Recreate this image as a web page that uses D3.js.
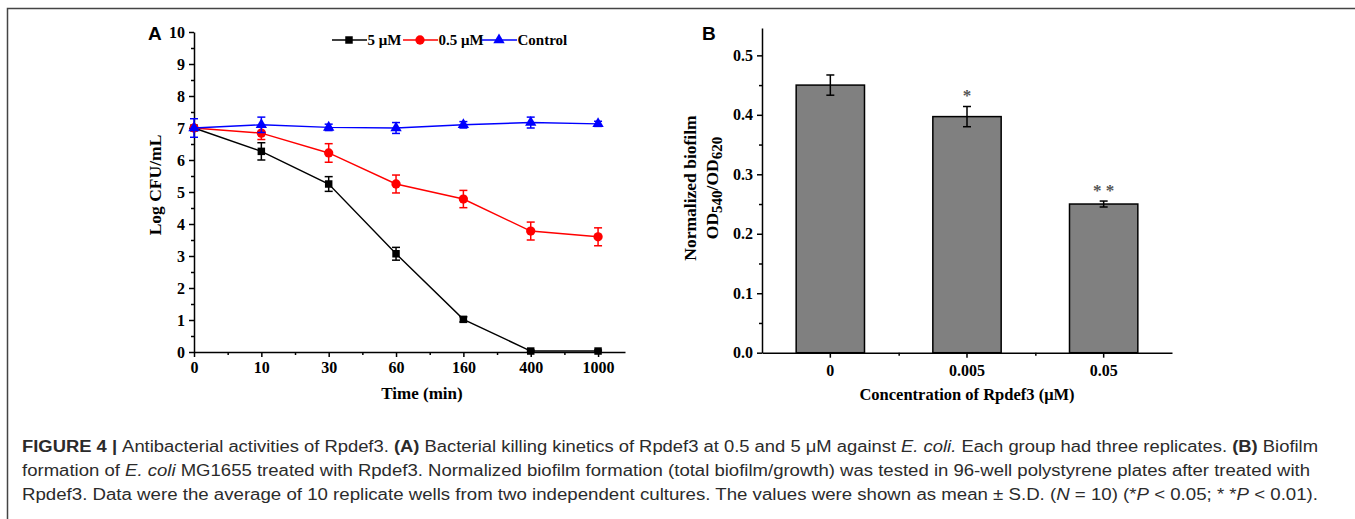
<!DOCTYPE html>
<html>
<head>
<meta charset="utf-8">
<script src="https://cdn.jsdelivr.net/npm/d3@7"></script>
<style>
  body { margin: 0; background: #fff; }
  svg text { font-family: "Liberation Serif", "Times New Roman", serif; font-weight: bold; }
  .axis path, .axis line { stroke: #000; stroke-width: 1.5; }
  .caption text, .caption tspan { font-family: "Liberation Sans Narrow", "Liberation Sans", Arial, sans-serif; font-weight: normal; }
</style>
</head>
<body>
<div class="canvas"></div>
<script>
// panel A data: killing kinetics
const timeLabels = ["0", "10", "30", "60", "160", "400", "1000"];
const kill5 = [7.0, 6.27, 5.25, 3.07, 1.02, 0.03, 0.03];
const kill5Err = [0.05, 0.27, 0.23, 0.2, 0.08, 0.03, 0.03];
const kill05 = [7.0, 6.84, 6.22, 5.25, 4.78, 3.78, 3.6];
const kill05Err = [0.05, 0.2, 0.29, 0.28, 0.27, 0.28, 0.28];
const control = [7.0, 7.1, 7.02, 7.0, 7.1, 7.17, 7.13];
const controlErr = [0.29, 0.24, 0.1, 0.17, 0.1, 0.17, 0.08];
const seriesNames = ["5 \u03bcM", "0.5 \u03bcM", "Control"];
const seriesColors = ["#000000", "#ff0000", "#0000ff"];

// panel B data: biofilm
const concLabels = ["0", "0.005", "0.05"];
const biofilm = [0.45, 0.397, 0.25];
const biofilmErr = [0.017, 0.017, 0.005];
const sigMarks = ["", "*", "**"];

const W = 1355, H = 519;
const svg = d3.select(".canvas").append("svg").attr("width", W).attr("height", H);

// frame
svg.append("path")
  .attr("d", `M7.5,${H} L7.5,8.5 L${W},8.5`)
  .attr("fill", "none").attr("stroke", "#444").attr("stroke-width", 1.5);

// ---------- panel A ----------
const a = { left: 194, top: 32, bottom: 352, right: 625 };
const xA = d3.scaleLinear().domain([0, 6.4]).range([a.left, a.right]);
const yA = d3.scaleLinear().domain([0, 10]).range([a.bottom, a.top]);

const gA = svg.append("g");

// minor ticks
gA.append("g").attr("class", "axis")
  .attr("transform", `translate(${a.left},0)`)
  .call(d3.axisLeft(yA).tickValues(d3.range(0.5, 10, 1)).tickSize(3).tickFormat(""))
  .call(g => g.select(".domain").remove());
gA.append("g").attr("class", "axis")
  .attr("transform", `translate(0,${a.bottom})`)
  .call(d3.axisBottom(xA).tickValues(d3.range(0.5, 6.4, 1)).tickSize(3).tickFormat(""))
  .call(g => g.select(".domain").remove());

const yAxisA = gA.append("g").attr("class", "axis")
  .attr("transform", `translate(${a.left},0)`)
  .call(d3.axisLeft(yA).ticks(10).tickSize(5).tickSizeOuter(0).tickPadding(4));
const xAxisA = gA.append("g").attr("class", "axis")
  .attr("transform", `translate(0,${a.bottom})`)
  .call(d3.axisBottom(xA).tickValues(d3.range(0, 7)).tickSize(5).tickSizeOuter(0)
    .tickPadding(5).tickFormat(i => timeLabels[i]));
yAxisA.selectAll("text").attr("font-size", 16).attr("fill", "#000");
xAxisA.selectAll("text").attr("font-size", 16).attr("fill", "#000");

// series
const allSeries = [
  { vals: kill5, err: kill5Err, shape: d3.symbolSquare, size: 56 },
  { vals: kill05, err: kill05Err, shape: d3.symbolCircle, size: 68 },
  { vals: control, err: controlErr, shape: d3.symbolTriangle, size: 56 }
];

const line = d3.line().x((d, i) => xA(i)).y(d => yA(d));

allSeries.forEach((s, k) => {
  const col = seriesColors[k];
  const g = gA.append("g");
  g.append("path").datum(s.vals)
    .attr("fill", "none").attr("stroke", col).attr("stroke-width", 1.4)
    .attr("d", line);
  const eb = g.selectAll(".eb").data(s.vals).enter().append("g");
  eb.append("line")
    .attr("x1", (d, i) => xA(i)).attr("x2", (d, i) => xA(i))
    .attr("y1", (d, i) => yA(d + s.err[i])).attr("y2", (d, i) => yA(d - s.err[i]))
    .attr("stroke", col).attr("stroke-width", 1.5);
  [1, -1].forEach(sign => {
    eb.append("line")
      .attr("x1", (d, i) => xA(i) - 4).attr("x2", (d, i) => xA(i) + 4)
      .attr("y1", (d, i) => yA(d + sign * s.err[i])).attr("y2", (d, i) => yA(d + sign * s.err[i]))
      .attr("stroke", col).attr("stroke-width", 1.5);
  });
  g.selectAll(".mk").data(s.vals).enter().append("path")
    .attr("d", d3.symbol().type(s.shape).size(s.size))
    .attr("transform", (d, i) => `translate(${xA(i)},${yA(d)})`)
    .attr("fill", col);
});

// legend
const legX = [332, 403, 482];
seriesNames.forEach((name, k) => {
  const lg = gA.append("g").attr("transform", `translate(${legX[k]},40)`);
  lg.append("line").attr("x1", 0).attr("x2", 35).attr("stroke", seriesColors[k]).attr("stroke-width", 1.4);
  lg.append("path").attr("d", d3.symbol().type(allSeries[k].shape).size(allSeries[k].size))
    .attr("transform", "translate(17,0)").attr("fill", seriesColors[k]);
  lg.append("text").attr("x", 35.5).attr("y", 5).attr("font-size", 15).text(name);
});

gA.append("text").attr("x", 422).attr("y", 399).attr("text-anchor", "middle")
  .attr("font-size", 17).text("Time (min)");
gA.append("text").attr("transform", "translate(161,185) rotate(-90)")
  .attr("text-anchor", "middle").attr("font-size", 17.5).text("Log CFU/mL");
gA.append("text").attr("x", 148).attr("y", 40)
  .style("font-family", "Liberation Sans, Arial, sans-serif")
  .attr("font-size", 19).text("A");

// ---------- panel B ----------
const b = { left: 762, right: 1172, top: 28, bottom: 352.7 };
const yB = d3.scaleLinear().domain([0, 0.546]).range([b.bottom, b.top]);
const xB = d3.scaleBand().domain(concLabels).range([b.left, b.right]);

const gB = svg.append("g");

gB.append("g").attr("class", "axis")
  .attr("transform", `translate(${b.left},0)`)
  .call(d3.axisLeft(yB).tickValues(d3.range(0.05, 0.55, 0.1)).tickSize(3).tickFormat(""))
  .call(g => g.select(".domain").remove());
gB.append("g").attr("class", "axis")
  .attr("transform", `translate(0,${b.bottom})`)
  .call(d3.axisBottom(d3.scaleLinear().domain([0, 3]).range([b.left, b.right]))
    .tickValues([1, 2]).tickSize(3).tickFormat(""))
  .call(g => g.select(".domain").remove());

// bars
gB.selectAll(".bar").data(biofilm).enter().append("rect")
  .attr("x", (d, i) => xB(concLabels[i]) + xB.bandwidth() / 4)
  .attr("width", xB.bandwidth() / 2)
  .attr("y", d => yB(d))
  .attr("height", d => yB(0) - yB(d))
  .attr("fill", "#808080").attr("stroke", "#000").attr("stroke-width", 1.5);

const cx = i => xB(concLabels[i]) + xB.bandwidth() / 2;
const ebB = gB.selectAll(".ebB").data(biofilm).enter().append("g");
ebB.append("line")
  .attr("x1", (d, i) => cx(i)).attr("x2", (d, i) => cx(i))
  .attr("y1", (d, i) => yB(d + biofilmErr[i])).attr("y2", (d, i) => yB(d - biofilmErr[i]))
  .attr("stroke", "#000").attr("stroke-width", 1.5);
[1, -1].forEach(sign => {
  ebB.append("line")
    .attr("x1", (d, i) => cx(i) - 4).attr("x2", (d, i) => cx(i) + 4)
    .attr("y1", (d, i) => yB(d + sign * biofilmErr[i])).attr("y2", (d, i) => yB(d + sign * biofilmErr[i]))
    .attr("stroke", "#000").attr("stroke-width", 1.5);
});
gB.selectAll(".sig").data(biofilm).enter().append("text")
  .attr("x", (d, i) => cx(i)).attr("y", (d, i) => yB(d + biofilmErr[i]) - 5)
  .attr("text-anchor", "middle").attr("font-size", 17).attr("font-weight", "normal")
  .attr("fill", "#555")
  .text((d, i) => sigMarks[i].split("").join(" "));

const yAxisB = gB.append("g").attr("class", "axis")
  .attr("transform", `translate(${b.left},0)`)
  .call(d3.axisLeft(yB).tickValues(d3.range(0, 0.51, 0.1)).tickSize(5).tickSizeOuter(0)
    .tickPadding(4).tickFormat(d3.format(".1f")));
const xAxisB = gB.append("g").attr("class", "axis")
  .attr("transform", `translate(0,${b.bottom})`)
  .call(d3.axisBottom(xB).tickSize(5).tickSizeOuter(0).tickPadding(7));
yAxisB.selectAll("text").attr("font-size", 16).attr("fill", "#000");
xAxisB.selectAll("text").attr("font-size", 16).attr("fill", "#000");

gB.append("text").attr("x", 967).attr("y", 400).attr("text-anchor", "middle")
  .attr("font-size", 16.5).text("Concentration of Rpdef3 (\u03bcM)");
gB.append("text").attr("transform", "translate(696,188) rotate(-90)")
  .attr("text-anchor", "middle").attr("font-size", 17.5).text("Normalized biofilm");
const t2 = gB.append("text").attr("transform", "translate(718,188) rotate(-90)")
  .attr("text-anchor", "middle").attr("font-size", 17.5);
t2.append("tspan").text("OD");
t2.append("tspan").attr("dy", 4).attr("font-size", 15).text("540");
t2.append("tspan").attr("dy", -4).text("/OD");
t2.append("tspan").attr("dy", 4).attr("font-size", 15).text("620");
gB.append("text").attr("x", 702).attr("y", 40)
  .style("font-family", "Liberation Sans, Arial, sans-serif")
  .attr("font-size", 19).text("B");

// ---------- caption ----------
const captionLines = [
  [["FIGURE 4 | ", "b"], ["Antibacterial activities of Rpdef3. ", ""], ["(A)", "b"],
   [" Bacterial killing kinetics of Rpdef3 at 0.5 and 5 \u03bcM against ", ""], ["E. coli.", "i"],
   [" Each group had three replicates. ", ""], ["(B)", "b"], [" Biofilm", ""]],
  [["formation of ", ""], ["E. coli", "i"],
   [" MG1655 treated with Rpdef3. Normalized biofilm formation (total biofilm/growth) was tested in 96-well polystyrene plates after treated with", ""]],
  [["Rpdef3. Data were the average of 10 replicate wells from two independent cultures. The values were shown as mean \u00b1 S.D. (", ""],
   ["N", "i"], [" = 10) (*", ""], ["P", "i"], [" < 0.05; * *", ""], ["P", "i"], [" < 0.01).", ""]]
];
const capWidths = [1296, 1288, 1296];
const cap = svg.append("g").attr("class", "caption");
captionLines.forEach((parts, li) => {
  const t = cap.append("text").attr("x", 22).attr("y", 452 + li * 24)
    .attr("font-size", 16).attr("fill", "#2b2b2b")
    .attr("textLength", capWidths[li]).attr("lengthAdjust", "spacingAndGlyphs");
  parts.forEach(([txt, st]) => {
    t.append("tspan").text(txt)
      .style("font-weight", st === "b" ? "bold" : "normal")
      .style("font-style", st === "i" ? "italic" : "normal");
  });
});
</script>
</body>
</html>
